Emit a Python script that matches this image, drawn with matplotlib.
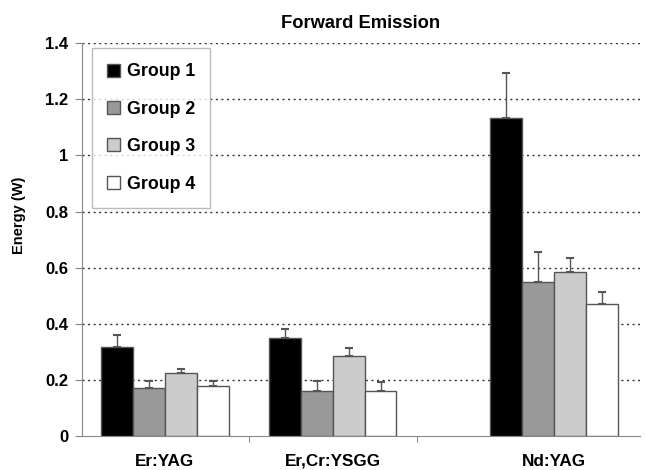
import numpy as np
import matplotlib.pyplot as plt

plt.rcParams['font.family'] = ['Liberation Sans', 'DejaVu Sans']
plt.rcParams['font.weight'] = 'bold'

## Values
categories = ['Er:YAG', 'Er,Cr:YSGG', 'Nd:YAG']
groups = ['Group 1', 'Group 2', 'Group 3', 'Group 4']
means = [
    [0.317, 0.349, 1.133],   # Group 1
    [0.171, 0.160, 0.549],   # Group 2
    [0.224, 0.285, 0.584],   # Group 3
    [0.178, 0.160, 0.470],   # Group 4
]
errs = [
    [0.043, 0.032, 0.160],
    [0.025, 0.036, 0.106],
    [0.015, 0.028, 0.050],
    [0.018, 0.032, 0.043],
]
colors = ['#000000', '#999999', '#cccccc', '#ffffff']

## category centres (the original figure is not evenly spaced)
xpos = np.array([0, 1, 2.32])
width = 0.19

fig = plt.figure(figsize=(6.45, 4.7), dpi=100, facecolor='w')
ax = fig.add_axes([0.127, 0.072, 0.865, 0.8365])

for i, g in enumerate(groups):
    x = xpos + (i - 1.5) * width
    yerr = [np.zeros(len(categories)), errs[i]]
    ax.bar(x, means[i], width, color=colors[i], edgecolor='#555555', linewidth=1,
           label=g, zorder=3,
           yerr=yerr, error_kw=dict(ecolor='#555555', elinewidth=1, capsize=3, capthick=1.5))

ax.set_ylim(0, 1.4)
ax.set_xlim(-0.494, 2.83)
ax.set_yticks(np.arange(0, 1.41, 0.2))
ax.set_yticklabels(['0', '0.2', '0.4', '0.6', '0.8', '1', '1.2', '1.4'], fontsize=12, fontweight='bold')
for yv in np.arange(0.2, 1.41, 0.2):
    ax.axhline(yv, color='#333333', linestyle=(0, (1.5, 2.5)), linewidth=1, zorder=1)

## category labels with ticks at the boundaries
ax.set_xticks([0.5, 1.5])
ax.set_xticklabels([])
ax.tick_params(axis='x', length=4, color='#888888', direction='out')
ax.tick_params(axis='y', length=5, color='#888888', direction='out', pad=5)
for xc, c in zip(xpos, categories):
    ax.text(xc, -0.045, c, ha='center', va='top', fontsize=12.3, fontweight='bold',
            transform=ax.get_xaxis_transform())

for s in ['top', 'right']:
    ax.spines[s].set_visible(False)
for s in ['left', 'bottom']:
    ax.spines[s].set_color('#888888')

ax.set_ylabel('Energy (W)', fontsize=10.5, fontweight='bold')
ax.yaxis.set_label_coords(-0.1, 0.562)
ax.set_title('Forward Emission', fontsize=13.2, fontweight='bold', pad=11)

leg = ax.legend(loc='upper left', bbox_to_anchor=(0.018, 0.987), borderaxespad=0,
                fontsize=12.8, frameon=True, fancybox=False, edgecolor='#aaaaaa',
                handlelength=0.75, handleheight=0.75, handletextpad=0.35,
                labelspacing=1.15, borderpad=0.85)
for t in leg.get_texts():
    t.set_fontweight('bold')
leg.get_frame().set_linewidth(1)

fig.savefig('out.png', dpi=100)
